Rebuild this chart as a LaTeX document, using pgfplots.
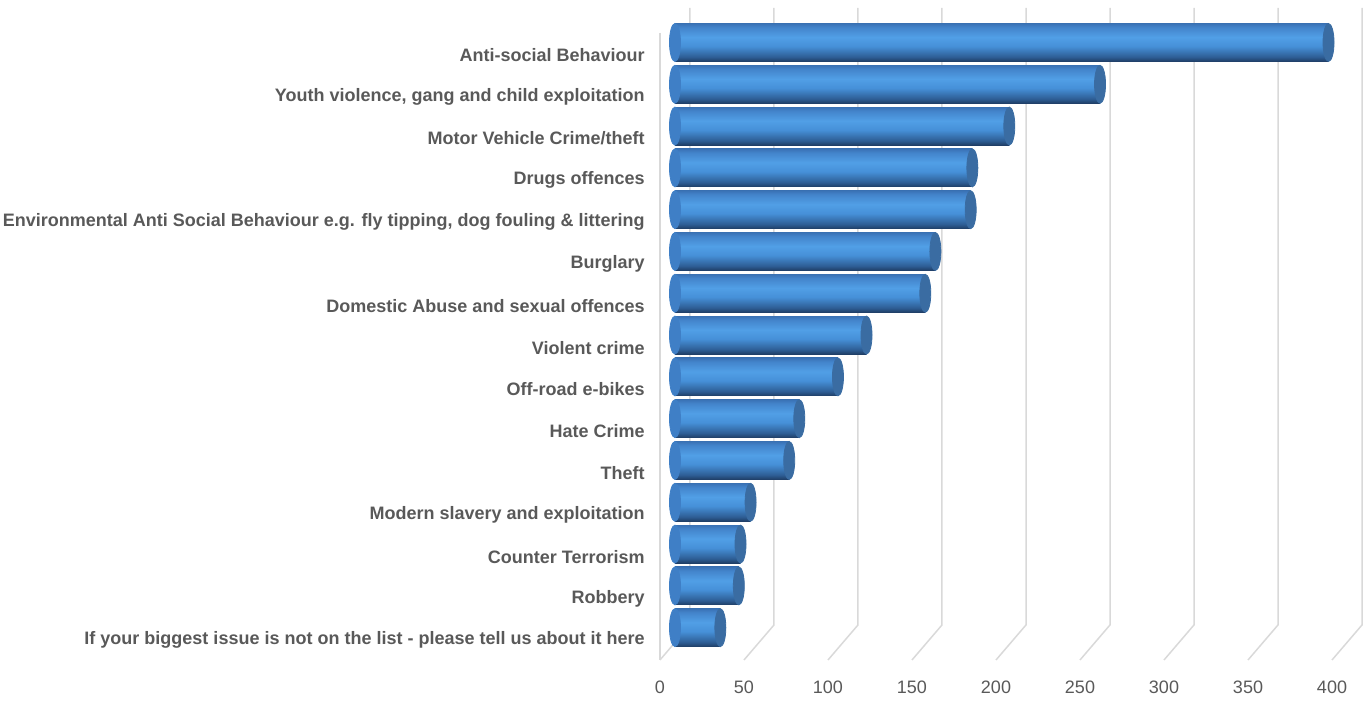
\documentclass[border=0pt]{standalone}
\usepackage{pgfplots}
\pgfplotsset{compat=1.18}
\usepackage{pgfplotstable}
\usepackage{fontspec}
\setmainfont{Liberation Sans}
\definecolor{txt}{HTML}{595959}
\definecolor{gridc}{HTML}{D9D9D9}
\definecolor{capc}{HTML}{3A6CA2}
\definecolor{endc}{HTML}{3F7FC6}
\pgfdeclareverticalshading{cyl}{100bp}{%
  color(0bp)=(rgb,255:red,31;green,62;blue,102);
  color(25bp)=(rgb,255:red,31;green,62;blue,102);
  color(31bp)=(rgb,255:red,46;green,94;blue,149);
  color(45bp)=(rgb,255:red,70;green,144;blue,216);
  color(57bp)=(rgb,255:red,81;green,159;blue,230);
  color(70bp)=(rgb,255:red,67;green,132;blue,203);
  color(75bp)=(rgb,255:red,58;green,114;blue,181);
  color(100bp)=(rgb,255:red,58;green,114;blue,181)}

\pgfplotstableread{
k v
14 389
13 253
12 199
11 177
10 176
9 155
8 149
7 114
6 97
5 74
4 68
3 45
2 39
1 38
0 27
}\datatable

\begin{document}
\begin{tikzpicture}
\begin{axis}[
  scale only axis, width=352.5pt, height=326pt,
  xmin=-8.93, xmax=410.7, ymin=-0.474, ymax=15.124,
  axis line style={draw=none}, major tick length=0pt,
  xtick={0,50,...,400}, ytick={0,...,14},
  yticklabels={If your biggest issue is not on the list - please tell us about it here, Robbery, Counter Terrorism, Modern slavery and exploitation, Theft, Hate Crime, Off-road e-bikes, Violent crime, Domestic Abuse and sexual offences, Burglary, Environmental Anti Social Behaviour e.g. fly tipping{,} dog fouling \& littering, Drugs offences, Motor Vehicle Crime/theft, {Youth violence, gang and child exploitation}, Anti-social Behaviour},
  yticklabel style={font=\fontsize{9}{10}\selectfont\bfseries, text=txt, inner sep=0pt, xshift=-7.5pt},
  xticklabel style={font=\fontsize{9}{10}\selectfont, text=txt, xshift=-7.5pt, yshift=-7pt},
  /pgf/number format/assume math mode=true,
  clip=false,
  cylbar/.style={xbar, bar width=19pt, bar shift=6.25pt, draw=none, shading=cyl, forget plot},
]
\pgfplotsinvokeforeach{0,50,...,400}{
  \draw[gridc, line width=0.75pt] ([xshift=7.5pt]axis cs:#1,15.124) -- ([xshift=7.5pt]axis cs:#1,0.364) -- ([xshift=-7.5pt]axis cs:#1,-0.474);
}
\draw[gridc, line width=0.75pt] ([xshift=-7.5pt]axis cs:0,14.526) -- ([xshift=-7.5pt]axis cs:0,-0.474);
% rounded left ends
\addplot[only marks, color=endc, mark=*, mark size=9.5pt,
  mark options={xscale=0.29, yshift=6.25pt, draw=endc, fill=endc}]
  table[x expr=0, y=k]{\datatable};
% bars, one path each so that each gets its own cylinder shading
\addplot[cylbar] coordinates {(389,14)};
\addplot[cylbar] coordinates {(253,13)};
\addplot[cylbar] coordinates {(199,12)};
\addplot[cylbar] coordinates {(177,11)};
\addplot[cylbar] coordinates {(176,10)};
\addplot[cylbar] coordinates {(155,9)};
\addplot[cylbar] coordinates {(149,8)};
\addplot[cylbar] coordinates {(114,7)};
\addplot[cylbar] coordinates {(97,6)};
\addplot[cylbar] coordinates {(74,5)};
\addplot[cylbar] coordinates {(68,4)};
\addplot[cylbar] coordinates {(45,3)};
\addplot[cylbar] coordinates {(39,2)};
\addplot[cylbar] coordinates {(38,1)};
\addplot[cylbar] coordinates {(27,0)};
% end caps
\addplot[only marks, color=capc, mark=*, mark size=9.5pt,
  mark options={xscale=0.29, yshift=6.25pt, draw=capc, fill=capc}]
  table[x=v, y=k]{\datatable};
\end{axis}
\path ([xshift=-330pt,yshift=-22pt]current axis.south west) rectangle ([xshift=1.5pt,yshift=4pt]current axis.north east);
\end{tikzpicture}
\end{document}
